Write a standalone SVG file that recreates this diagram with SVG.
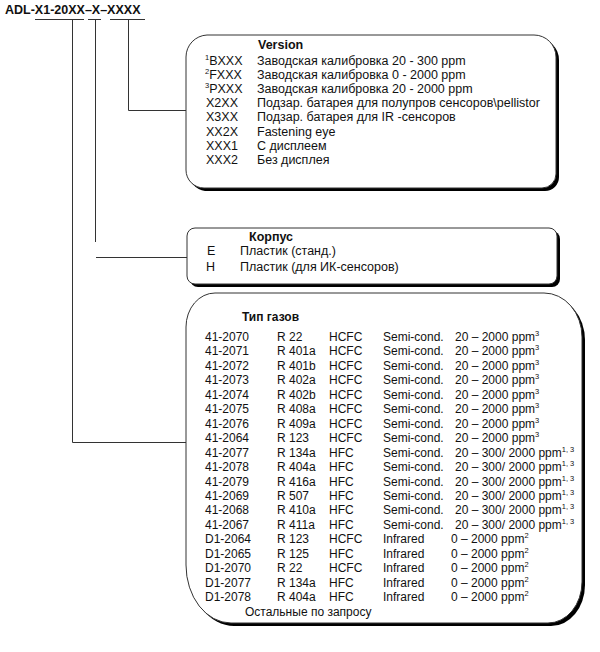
<svg xmlns="http://www.w3.org/2000/svg" width="600" height="652" viewBox="0 0 600 652">
<style>
text{font-family:"Liberation Sans",Arial,sans-serif;font-size:12px;fill:#111}
.m{font-size:12.5px}
.b{font-weight:bold}
.t{font-weight:bold;font-size:12.5px}
.sup{font-size:7.5px}
.box{fill:#fff;stroke:#333;stroke-width:1}
.sh{fill:#000}
.ln{stroke:#333;stroke-width:1;fill:none}
</style>
<rect width="600" height="652" fill="#fff"/>
<g id="title">
<text class="t" x="5" y="14">ADL-X1-20XX–X–XXXX</text>
<line class="ln" x1="35" y1="19.5" x2="84" y2="19.5"/>
<line class="ln" x1="88" y1="19.5" x2="101" y2="19.5"/>
<line class="ln" x1="110" y1="19.5" x2="145" y2="19.5"/>
</g>
<g id="connectors">
<polyline class="ln" points="128.5,20 128.5,110.5 186,110.5"/>
<line class="ln" x1="95.5" y1="20" x2="95.5" y2="242"/>
<line class="ln" x1="96" y1="257.5" x2="187" y2="257.5"/>
<polyline class="ln" points="72.5,20 72.5,442.5 186,442.5"/>
</g>
<g id="version">
<path class="sh" d="M208,38 H537 A22,22 0 0 1 559,60 V177 A14,14 0 0 1 545,191 H205 A18,18 0 0 1 189,173 V60 A22,22 0 0 1 208,38 Z"/>
<path class="box" d="M207,35 H534 A22,22 0 0 1 556,57 V174 A14,14 0 0 1 542,188 H204 A18,18 0 0 1 186,170 V57 A22,22 0 0 1 207,35 Z"/>
<text class="b m" x="258" y="49">Version</text>
<text class="m" x="205" y="64.5"><tspan class="sup" dy="-5">1</tspan><tspan dy="5">BXXX</tspan></text>
<text class="m" x="205" y="78.5"><tspan class="sup" dy="-5">2</tspan><tspan dy="5">FXXX</tspan></text>
<text class="m" x="205" y="92.5"><tspan class="sup" dy="-5">3</tspan><tspan dy="5">PXXX</tspan></text>
<text class="m" x="206" y="107">X2XX</text>
<text class="m" x="206" y="121">X3XX</text>
<text class="m" x="206" y="135.5">XX2X</text>
<text class="m" x="206" y="149.5">XXX1</text>
<text class="m" x="206" y="164">XXX2</text>
<text class="m" x="257" y="64.5">Заводская калибровка 20 - 300 ppm</text>
<text class="m" x="257" y="78.5">Заводская калибровка 0 - 2000 ppm</text>
<text class="m" x="257" y="92.5">Заводская калибровка 20 - 2000 ppm</text>
<text class="m" x="257" y="107">Подзар. батарея для полупров сенсоров\pellistor</text>
<text class="m" x="257" y="121">Подзар. батарея для IR -сенсоров</text>
<text class="m" x="257" y="135.5">Fastening eye</text>
<text class="m" x="257" y="149.5">С дисплеем</text>
<text class="m" x="257" y="164">Без дисплея</text>
</g>
<g id="korpus">
<rect class="sh" x="190" y="231" width="370" height="56" rx="8"/>
<rect class="box" x="187" y="228" width="370" height="56" rx="8"/>
<text class="b m" x="249" y="240.5">Корпус</text>
<text class="m" x="207" y="254.5">E</text>
<text class="m" x="240" y="254.5">Пластик (станд.)</text>
<text class="m" x="206" y="270.5">H</text>
<text class="m" x="240" y="270.5">Пластик (для ИК-сенсоров)</text>
</g>
<g id="gases">
<path class="sh" d="M218,296 H547 A38,44 0 0 1 585,340 V585 A34,41 0 0 1 551,626 H234 A45,58 0 0 1 189,568 V330 A29,34 0 0 1 218,296 Z"/>
<path class="box" d="M215,293 H544 A38,44 0 0 1 582,337 V582 A34,41 0 0 1 548,623 H231 A45,58 0 0 1 186,565 V327 A29,34 0 0 1 215,293 Z"/>
<text class="b" x="242" y="320.5">Тип газов</text>
<g id="rows">
<text x="205" y="341">41-2070</text><text x="277" y="341">R 22</text><text x="329" y="341">HCFC</text><text x="383" y="341">Semi-cond.</text><text x="455" y="341">20 – 2000 ppm<tspan class="sup" dy="-5">3</tspan></text>
<text x="205" y="355.45">41-2071</text><text x="277" y="355.45">R 401a</text><text x="329" y="355.45">HCFC</text><text x="383" y="355.45">Semi-cond.</text><text x="455" y="355.45">20 – 2000 ppm<tspan class="sup" dy="-5">3</tspan></text>
<text x="205" y="369.9">41-2072</text><text x="277" y="369.9">R 401b</text><text x="329" y="369.9">HCFC</text><text x="383" y="369.9">Semi-cond.</text><text x="455" y="369.9">20 – 2000 ppm<tspan class="sup" dy="-5">3</tspan></text>
<text x="205" y="384.35">41-2073</text><text x="277" y="384.35">R 402a</text><text x="329" y="384.35">HCFC</text><text x="383" y="384.35">Semi-cond.</text><text x="455" y="384.35">20 – 2000 ppm<tspan class="sup" dy="-5">3</tspan></text>
<text x="205" y="398.8">41-2074</text><text x="277" y="398.8">R 402b</text><text x="329" y="398.8">HCFC</text><text x="383" y="398.8">Semi-cond.</text><text x="455" y="398.8">20 – 2000 ppm<tspan class="sup" dy="-5">3</tspan></text>
<text x="205" y="413.25">41-2075</text><text x="277" y="413.25">R 408a</text><text x="329" y="413.25">HCFC</text><text x="383" y="413.25">Semi-cond.</text><text x="455" y="413.25">20 – 2000 ppm<tspan class="sup" dy="-5">3</tspan></text>
<text x="205" y="427.7">41-2076</text><text x="277" y="427.7">R 409a</text><text x="329" y="427.7">HCFC</text><text x="383" y="427.7">Semi-cond.</text><text x="455" y="427.7">20 – 2000 ppm<tspan class="sup" dy="-5">3</tspan></text>
<text x="205" y="442.15">41-2064</text><text x="277" y="442.15">R 123</text><text x="329" y="442.15">HCFC</text><text x="383" y="442.15">Semi-cond.</text><text x="455" y="442.15">20 – 2000 ppm<tspan class="sup" dy="-5">3</tspan></text>
<text x="205" y="456.6">41-2077</text><text x="277" y="456.6">R 134a</text><text x="329" y="456.6">HFC</text><text x="383" y="456.6">Semi-cond.</text><text x="455" y="456.6">20 – 300/ 2000 ppm<tspan class="sup" dy="-5">1, 3</tspan></text>
<text x="205" y="471.05">41-2078</text><text x="277" y="471.05">R 404a</text><text x="329" y="471.05">HFC</text><text x="383" y="471.05">Semi-cond.</text><text x="455" y="471.05">20 – 300/ 2000 ppm<tspan class="sup" dy="-5">1, 3</tspan></text>
<text x="205" y="485.5">41-2079</text><text x="277" y="485.5">R 416a</text><text x="329" y="485.5">HFC</text><text x="383" y="485.5">Semi-cond.</text><text x="455" y="485.5">20 – 300/ 2000 ppm<tspan class="sup" dy="-5">1, 3</tspan></text>
<text x="205" y="499.95">41-2069</text><text x="277" y="499.95">R 507</text><text x="329" y="499.95">HFC</text><text x="383" y="499.95">Semi-cond.</text><text x="455" y="499.95">20 – 300/ 2000 ppm<tspan class="sup" dy="-5">1, 3</tspan></text>
<text x="205" y="514.4">41-2068</text><text x="277" y="514.4">R 410a</text><text x="329" y="514.4">HFC</text><text x="383" y="514.4">Semi-cond.</text><text x="455" y="514.4">20 – 300/ 2000 ppm<tspan class="sup" dy="-5">1, 3</tspan></text>
<text x="205" y="528.85">41-2067</text><text x="277" y="528.85">R 411a</text><text x="329" y="528.85">HFC</text><text x="383" y="528.85">Semi-cond.</text><text x="455" y="528.85">20 – 300/ 2000 ppm<tspan class="sup" dy="-5">1, 3</tspan></text>
<text x="205" y="543.3">D1-2064</text><text x="277" y="543.3">R 123</text><text x="329" y="543.3">HCFC</text><text x="383" y="543.3">Infrared</text><text x="451" y="543.3">0 – 2000 ppm<tspan class="sup" dy="-5">2</tspan></text>
<text x="205" y="557.75">D1-2065</text><text x="277" y="557.75">R 125</text><text x="329" y="557.75">HFC</text><text x="383" y="557.75">Infrared</text><text x="451" y="557.75">0 – 2000 ppm<tspan class="sup" dy="-5">2</tspan></text>
<text x="205" y="572.2">D1-2070</text><text x="277" y="572.2">R 22</text><text x="329" y="572.2">HCFC</text><text x="383" y="572.2">Infrared</text><text x="451" y="572.2">0 – 2000 ppm<tspan class="sup" dy="-5">2</tspan></text>
<text x="205" y="586.65">D1-2077</text><text x="277" y="586.65">R 134a</text><text x="329" y="586.65">HFC</text><text x="383" y="586.65">Infrared</text><text x="451" y="586.65">0 – 2000 ppm<tspan class="sup" dy="-5">2</tspan></text>
<text x="205" y="601.1">D1-2078</text><text x="277" y="601.1">R 404a</text><text x="329" y="601.1">HFC</text><text x="383" y="601.1">Infrared</text><text x="451" y="601.1">0 – 2000 ppm<tspan class="sup" dy="-5">2</tspan></text>
<text x="245" y="615.5">Остальные по запросу</text>
</g>
</g>
</svg>
